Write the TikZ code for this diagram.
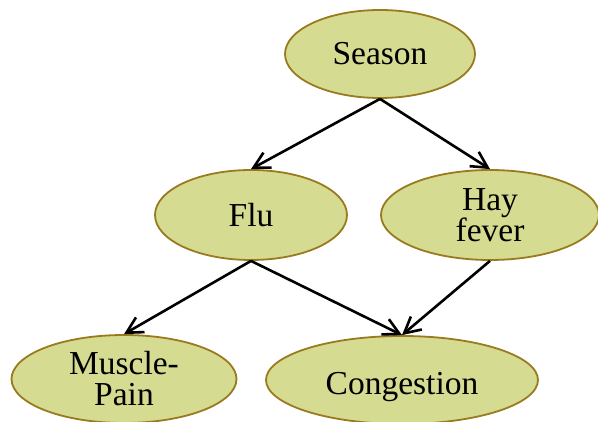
\documentclass[tikz,border=0pt]{standalone}
\usepackage{fontspec}
\setmainfont{Liberation Serif}
\usetikzlibrary{shapes.geometric,arrows.meta}
\definecolor{nodefill}{HTML}{D5DB90}
\definecolor{nodeline}{HTML}{9A7A1E}
\tikzset{
  var/.style={ellipse, draw=nodeline, fill=nodefill, line width=1.8pt, inner sep=0pt,
    align=center, font=\fontsize{33.5}{31}\selectfont},
  edge/.style={-{Straight Barb[length=16pt,width=17pt,line width=2.6pt]}, line width=2.6pt, black}
}
\begin{document}
\begin{tikzpicture}[x=1pt,y=-1pt]
\useasboundingbox (0,0) rectangle (598,422);
\clip (0,0) rectangle (598,422);
\node[var, minimum width=190pt, minimum height=88pt] (season) at (380,54) {Season};
\node[var, minimum width=192pt, minimum height=90pt] (flu) at (251,215) {Flu};
\node[var, minimum width=218pt, minimum height=90pt] (hay) at (490,215) {Hay\\fever};
\node[var, minimum width=225pt, minimum height=88pt] (muscle) at (124,379) {Muscle-\\Pain};
\node[var, minimum width=272pt, minimum height=88pt] (cong) at (402,380) {\raisebox{-3pt}[\height][0pt]{Congestion}};
\draw[edge] (season.south) -- (flu.north);
\draw[edge] (season.south) -- (hay.north);
\draw[edge] (flu.south) -- (muscle.north);
\draw[edge] (flu.south) -- (cong.north);
\draw[edge] (hay.south) -- (cong.north);
\end{tikzpicture}
\end{document}
